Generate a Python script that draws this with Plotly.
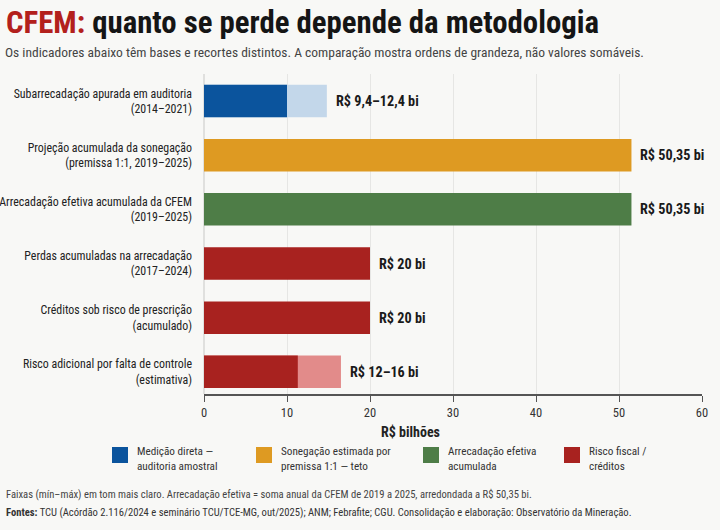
import plotly.graph_objects as go

# ---- data ----
categorias = [
    "Subarrecadação apurada em auditoria<br>(2014–2021)",
    "Projeção acumulada da sonegação<br>(premissa 1:1, 2019–2025)",
    "Arrecadação efetiva acumulada da CFEM<br>(2019–2025)",
    "Perdas acumuladas na arrecadação<br>(2017–2024)",
    "Créditos sob risco de prescrição<br>(acumulado)",
    "Risco adicional por falta de controle<br>(estimativa)",
]
valor_base = [10.0, 51.5, 51.5, 20.0, 20.0, 11.3]      # trecho escuro
valor_max = [14.8, None, None, None, None, 16.5]       # fim da faixa clara
rotulos = ["R$ 9,4–12,4 bi", "R$ 50,35 bi", "R$ 50,35 bi",
           "R$ 20 bi", "R$ 20 bi", "R$ 12–16 bi"]
grupo = ["direta", "sonegacao", "arrecadacao", "risco", "risco", "risco"]

legenda_grupos = ["direta", "sonegacao", "arrecadacao", "risco"]
legenda_textos = ["Medição direta —<br>auditoria amostral",
                  "Sonegação estimada por<br>premissa 1:1 — teto",
                  "Arrecadação efetiva<br>acumulada",
                  "Risco fiscal /<br>créditos"]

eixo_ticks = [0, 10, 20, 30, 40, 50, 60]

cor_escura = {"direta": "#0b549d", "sonegacao": "#de9a22",
              "arrecadacao": "#4e7d47", "risco": "#a8221f"}
cor_clara = {"direta": "#c3d7ea", "sonegacao": "#f0cf90",
             "arrecadacao": "#a9c3a4", "risco": "#e28b8a"}

BG = "#f8f8f6"
FONT = "Roboto Condensed, Open Sans Condensed, sans-serif"

# plot area in pixels
W_FIG, H_FIG = 720, 530
L, R, T, B = 204, 18, 74, 136
PW, PH = W_FIG - L - R, H_FIG - T - B


def px(x):
    return (x - L) / PW


def py(y):
    return 1 - (y - T) / PH


fig = go.Figure()

# faixa clara (min-max)
fig.add_trace(go.Bar(
    y=categorias, x=valor_max, orientation="h",
    marker=dict(color=[cor_clara[g] for g in grupo], line_width=0),
    width=0.6, hoverinfo="skip", showlegend=False,
))
# trecho escuro
fig.add_trace(go.Bar(
    y=categorias, x=valor_base, orientation="h",
    marker=dict(color=[cor_escura[g] for g in grupo], line_width=0),
    width=0.6, showlegend=False,
))

ann = []
for c, b, m, t in zip(categorias, valor_base, valor_max, rotulos):
    fim = m if m is not None else b
    ann.append(dict(x=fim, y=c, xref="x", yref="y", text=t, showarrow=False,
                    xanchor="left", xshift=7,
                    font=dict(family=FONT, size=14.2, color="#1a1a1a", weight="bold")))

# titulo e subtitulo
ann.append(dict(x=px(4), y=py(23), xref="paper", yref="paper", showarrow=False,
                xanchor="left", yanchor="middle",
                text="<span style='color:#b3201c'>CFEM:</span> quanto se perde depende da metodologia",
                font=dict(family=FONT, size=30.8, color="#151515", weight="bold")))
ann.append(dict(x=px(3), y=py(52), xref="paper", yref="paper", showarrow=False,
                xanchor="left", yanchor="middle",
                text="Os indicadores abaixo têm bases e recortes distintos. A comparação mostra ordens de grandeza, não valores somáveis.",
                font=dict(family=FONT, size=13.5, color="#444444")))

# titulo do eixo x
ann.append(dict(x=px(410), y=py(432), xref="paper", yref="paper", showarrow=False,
                xanchor="center", yanchor="middle", text="R$ bilhões",
                font=dict(family=FONT, size=14, color="#222222", weight="bold")))

# legenda manual
shapes = []
leg_x = [112, 256, 423, 564]
for g, txt, x0 in zip(legenda_grupos, legenda_textos, leg_x):
    shapes.append(dict(type="rect", xref="paper", yref="paper",
                       x0=px(x0), x1=px(x0 + 16), y0=py(463), y1=py(447),
                       fillcolor=cor_escura[g], line_width=0))
    ann.append(dict(x=px(x0 + 23), y=py(459), xref="paper", yref="paper",
                    showarrow=False, xanchor="left", yanchor="middle", align="left",
                    text=txt, font=dict(family=FONT, size=11.2, color="#333333")))

# notas de rodape
ann.append(dict(x=px(4), y=py(494), xref="paper", yref="paper", showarrow=False,
                xanchor="left", yanchor="middle",
                text="Faixas (mín–máx) em tom mais claro. Arrecadação efetiva = soma anual da CFEM de 2019 a 2025, arredondada a R$ 50,35 bi.",
                font=dict(family=FONT, size=10.6, color="#444444")))
ann.append(dict(x=px(4), y=py(512), xref="paper", yref="paper", showarrow=False,
                xanchor="left", yanchor="middle",
                text="<b>Fontes:</b> TCU (Acórdão 2.116/2024 e seminário TCU/TCE-MG, out/2025); ANM; Febrafite; CGU. Consolidação e elaboração: Observatório da Mineração.",
                font=dict(family=FONT, size=10.6, color="#333333")))

fig.update_layout(
    width=W_FIG, height=H_FIG,
    margin=dict(l=L, r=R, t=T, b=B, pad=0),
    paper_bgcolor=BG, plot_bgcolor=BG,
    barmode="overlay", bargap=0.4,
    annotations=ann, shapes=shapes,
    font=dict(family=FONT, color="#333333"),
)
fig.update_xaxes(range=[0, 60], tickvals=eixo_ticks, showgrid=True,
                 gridcolor="#e6e6e4", gridwidth=1, zeroline=True,
                 zerolinecolor="#e0e0de", showline=True, linecolor="#555555",
                 linewidth=1.5, ticks="outside", ticklen=6, tickcolor="#555555",
                 tickfont=dict(family=FONT, size=12.5, color="#333333"),
                 automargin=False, fixedrange=True)
fig.update_yaxes(range=[5.41, -0.5], showgrid=False, ticks="",
                 ticklabelstandoff=11, automargin=False,
                 tickfont=dict(family=FONT, size=11.9, color="#222222"),
                 fixedrange=True)

# tira a margem padrao do <body> para o grafico ficar colado no canto
fig.write_html("out.html", config={"displayModeBar": False},
               post_script="document.body.style.margin='0';")
